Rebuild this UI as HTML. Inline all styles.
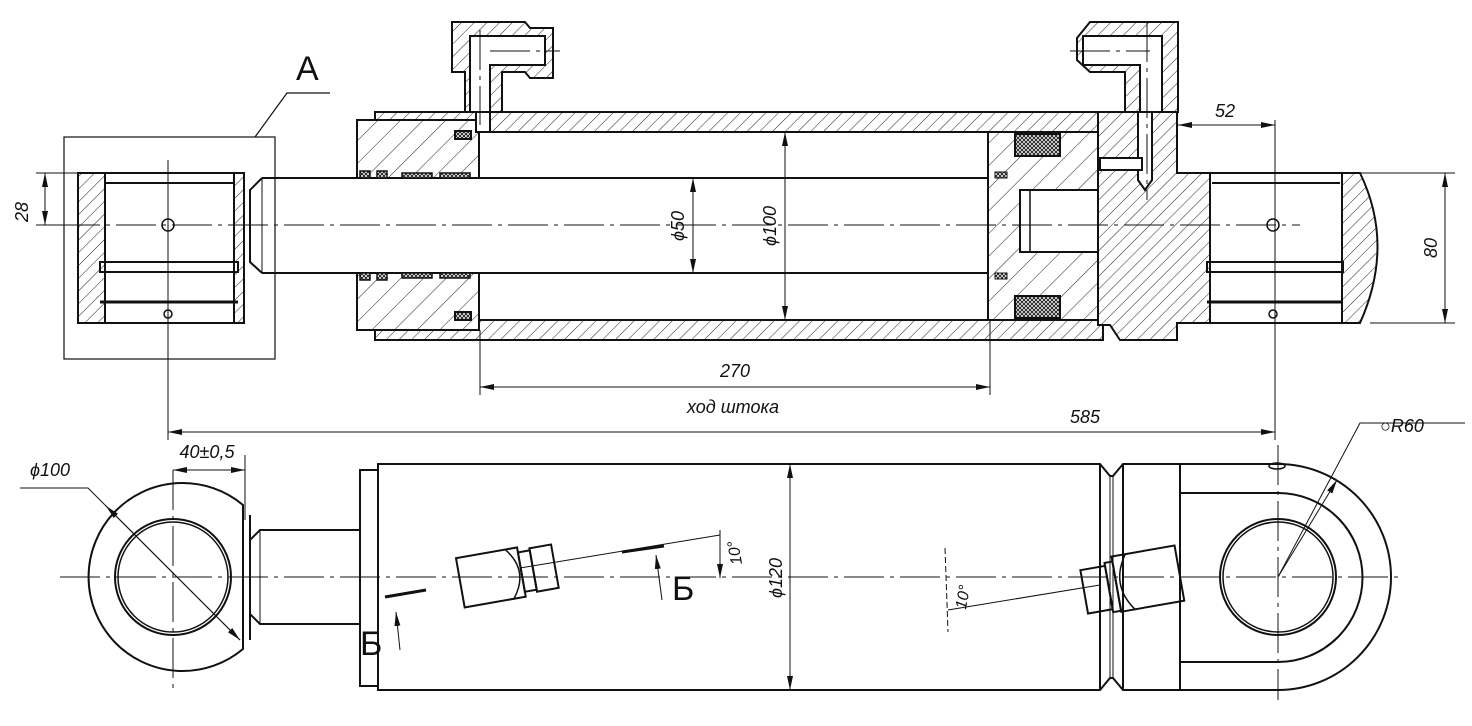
<!DOCTYPE html>
<html><head><meta charset="utf-8"><style>
html,body{margin:0;padding:0;background:#fff}
svg{display:block}
text{font-family:"Liberation Sans",sans-serif;font-style:italic;fill:#111}
</style></head><body>
<svg width="1472" height="726" viewBox="0 0 1472 726" xmlns="http://www.w3.org/2000/svg">
<defs>
<pattern id="h" width="9" height="9" patternUnits="userSpaceOnUse" patternTransform="rotate(45)">
<rect width="9" height="9" fill="#fff"/><line x1="0" y1="0" x2="0" y2="9" stroke="#222" stroke-width="1"/></pattern>
<pattern id="h2" width="16" height="16" patternUnits="userSpaceOnUse" patternTransform="rotate(45)">
<rect width="16" height="16" fill="#fff"/><line x1="0" y1="0" x2="0" y2="16" stroke="#222" stroke-width="1"/></pattern>
<pattern id="x" width="4" height="4" patternUnits="userSpaceOnUse">
<rect width="4" height="4" fill="#fff"/><path d="M0,0L4,4M4,0L0,4" stroke="#222" stroke-width="1"/></pattern>
<marker id="a" markerWidth="14" markerHeight="6" refX="14" refY="3" orient="auto" markerUnits="userSpaceOnUse"><path d="M0,0L14,3L0,6z" fill="#111"/></marker>
<marker id="b" markerWidth="14" markerHeight="6" refX="0" refY="3" orient="auto" markerUnits="userSpaceOnUse"><path d="M14,0L0,3L14,6z" fill="#111"/></marker>
</defs>
<g fill="none" stroke="#111" stroke-width="2">
<!-- ========== TOP VIEW ========== -->
<!-- view A frame -->
<rect x="64" y="137" width="211" height="222" stroke-width="1.2"/>
<polyline points="330,93 287,93 255,137" stroke-width="1.2"/>
<!-- left eye section -->
<rect x="78" y="173" width="27" height="150" fill="url(#h)"/>
<rect x="234" y="173" width="10" height="150" fill="url(#h)"/>
<rect x="78" y="173" width="166" height="150"/>
<line x1="105" y1="183" x2="234" y2="183"/>
<rect x="100" y="262" width="138" height="10"/>
<line x1="100" y1="302" x2="238" y2="302" stroke-width="3"/>
<circle cx="168" cy="225" r="6" stroke-width="1.5"/>
<circle cx="168" cy="314" r="4" stroke-width="1.5"/>
<!-- rod -->
<path d="M262,178 L1020,178 M262,273 L1020,273 M262,178 L250,190 L250,262 L262,273"/>
<line x1="262" y1="178" x2="262" y2="273" stroke-width="1"/>
<!-- tube -->
<rect x="375" y="112" width="728" height="20" fill="url(#h)"/>
<rect x="375" y="320" width="728" height="20" fill="url(#h)"/>
<!-- gland -->
<rect x="357" y="120" width="122" height="58" fill="url(#h2)"/>
<rect x="357" y="273" width="122" height="57" fill="url(#h2)"/>
<rect x="455" y="131" width="16" height="8" fill="url(#x)"/>
<rect x="455" y="312" width="16" height="8" fill="url(#x)"/>
<g fill="url(#x)" stroke-width="1.5">
<rect x="360" y="171" width="10" height="7"/><rect x="377" y="171" width="10" height="7"/><rect x="402" y="173" width="30" height="5"/><rect x="440" y="173" width="30" height="5"/>
<rect x="360" y="273" width="10" height="7"/><rect x="377" y="273" width="10" height="7"/><rect x="402" y="273" width="30" height="5"/><rect x="440" y="273" width="30" height="5"/>
</g>
<!-- piston -->
<rect x="988" y="132" width="110" height="188" fill="url(#h2)"/>
<rect x="1020" y="190" width="78" height="62" fill="#fff"/>
<line x1="1030" y1="190" x2="1030" y2="252" stroke-width="1.5"/>
<rect x="1015" y="134" width="45" height="22" fill="url(#x)"/>
<rect x="1015" y="296" width="45" height="22" fill="url(#x)"/>
<rect x="995" y="172" width="12" height="6" fill="url(#x)" stroke-width="1"/>
<rect x="995" y="273" width="12" height="6" fill="url(#x)" stroke-width="1"/>
<!-- rear head + eye -->
<path d="M1098,112 L1177,112 L1177,173 L1360,173 Q1395,245 1360,323 L1177,323 L1177,340 L1120,340 L1110,325 L1098,325 Z" fill="url(#h)"/>
<rect x="1210" y="173" width="132" height="150" fill="#fff"/>
<line x1="1212" y1="183" x2="1340" y2="183"/>
<rect x="1207" y="262" width="136" height="10"/>
<line x1="1207" y1="302" x2="1343" y2="302" stroke-width="3"/>
<line x1="1207" y1="323" x2="1343" y2="323"/>
<circle cx="1273" cy="225" r="6" stroke-width="1.5"/>
<circle cx="1273" cy="314" r="4" stroke-width="1.5"/>
<path d="M1138,112 L1138,180 L1145,190 L1152,180 L1152,112" fill="#fff"/>
<rect x="1100" y="158" width="42" height="12" fill="#fff"/>
<!-- fittings -->
<path d="M452,22 L525,22 L530,28 L553,28 L553,78 L530,78 L525,72 L502,72 L502,112 L465,112 L465,72 L452,72 Z" fill="url(#h)"/>
<path d="M470,36 L545,36 L545,65 L490,65 L490,112 L470,112 Z" fill="#fff"/>
<rect x="476" y="112" width="14" height="20" fill="#fff"/>
<path d="M1077,38 L1090,22 L1178,22 L1178,112 L1125,112 L1125,72 L1090,72 L1077,60 Z" fill="url(#h)"/>
<path d="M1083,36 L1162,36 L1162,112 L1140,112 L1140,65 L1083,65 Z" fill="#fff"/>
<!-- centerlines -->
<g stroke-width="1" stroke-dasharray="40,6,4,6">
<line x1="60" y1="225" x2="1300" y2="225"/>
<line x1="490" y1="51" x2="560" y2="51"/><line x1="1070" y1="51" x2="1150" y2="51"/>
<line x1="480" y1="30" x2="480" y2="125"/><line x1="1147" y1="22" x2="1147" y2="200"/>
</g>
<!-- dimensions top -->
<g stroke-width="1">
<line x1="168" y1="160" x2="168" y2="440"/>
<line x1="1275" y1="120" x2="1275" y2="440"/>
<line x1="36" y1="173" x2="80" y2="173"/><line x1="36" y1="225" x2="80" y2="225"/>
<line x1="45" y1="173" x2="45" y2="225" marker-start="url(#b)" marker-end="url(#a)"/>
<line x1="1340" y1="173" x2="1455" y2="173"/><line x1="1370" y1="323" x2="1455" y2="323"/>
<line x1="1445" y1="173" x2="1445" y2="323" marker-start="url(#b)" marker-end="url(#a)"/>
<line x1="1178" y1="125" x2="1275" y2="125" marker-start="url(#b)" marker-end="url(#a)"/>
<line x1="693" y1="178" x2="693" y2="273" marker-start="url(#b)" marker-end="url(#a)"/>
<line x1="785" y1="132" x2="785" y2="320" marker-start="url(#b)" marker-end="url(#a)"/>
<line x1="480" y1="330" x2="480" y2="395"/><line x1="990" y1="320" x2="990" y2="395"/>
<line x1="480" y1="387" x2="990" y2="387" marker-start="url(#b)" marker-end="url(#a)"/>
<line x1="168" y1="432" x2="1275" y2="432" marker-start="url(#b)" marker-end="url(#a)"/>
</g>
<!-- ========== BOTTOM VIEW ========== -->
<path d="M243,505 A94,94 0 1 0 243,649 Z"/>
<line x1="250" y1="515" x2="250" y2="640"/>
<circle cx="173" cy="577" r="58"/><circle cx="173" cy="577" r="55" stroke-width="1.5"/>
<path d="M250,540 L260,530 L360,530 M250,614 L260,624 L360,624"/>
<line x1="260" y1="530" x2="260" y2="624" stroke-width="1"/>
<path d="M378,470 L360,470 L360,686 L378,686"/>
<path d="M378,464 L1100,464 L1110,476 L1113,476 L1123,464 L1180,464 L1278,464 A113,113 0 0 1 1278,690 L1180,690 L1123,690 L1113,678 L1110,678 L1100,690 L378,690 Z"/>
<line x1="378" y1="464" x2="378" y2="690"/>
<line x1="1100" y1="464" x2="1100" y2="690"/><line x1="1123" y1="464" x2="1123" y2="690"/>
<line x1="1110" y1="476" x2="1110" y2="678" stroke-width="1"/><line x1="1113" y1="476" x2="1113" y2="678" stroke-width="1"/>
<line x1="1180" y1="464" x2="1180" y2="690"/>
<path d="M1180,493 L1278,493 A84,84 0 0 1 1278,662 L1180,662"/>
<circle cx="1278" cy="577" r="58"/><circle cx="1278" cy="577" r="55" stroke-width="1.5"/>
<ellipse cx="1277" cy="466" rx="8" ry="3" stroke-width="1.5"/>
<!-- ports -->
<g transform="rotate(-10 505 577)">
<rect x="460" y="550" width="62" height="50"/><rect x="522" y="555" width="12" height="40"/><rect x="534" y="553" width="22" height="44"/>
<path d="M510,550 Q530,575 510,600" stroke-width="1.5"/>
</g>
<g transform="rotate(-10 1140 580)">
<rect x="1083" y="560" width="25" height="44"/><rect x="1108" y="557" width="8" height="50"/><rect x="1116" y="552" width="64" height="56"/>
<path d="M1130,552 Q1110,580 1130,608" stroke-width="1.5"/>
</g>
<!-- centerlines bottom -->
<g stroke-width="1" stroke-dasharray="40,6,4,6">
<line x1="60" y1="577" x2="1400" y2="577"/>
<line x1="173" y1="470" x2="173" y2="690"/>
<line x1="1278" y1="445" x2="1278" y2="700"/>
</g>
<!-- dims bottom -->
<g stroke-width="1">
<line x1="245" y1="455" x2="245" y2="520"/>
<line x1="173" y1="470" x2="245" y2="470" marker-start="url(#b)" marker-end="url(#a)"/>
<polyline points="20,488 88,488 240,640" marker-end="url(#a)"/>
<line x1="240" y1="640" x2="106" y2="506" marker-end="url(#a)"/>
<line x1="790" y1="464" x2="790" y2="690" marker-start="url(#b)" marker-end="url(#a)"/>
<polyline points="1465,423 1360,423 1278,577"/>
<line x1="1278" y1="577" x2="1337" y2="480" marker-end="url(#a)"/>
<line x1="720" y1="538" x2="720" y2="578" marker-end="url(#a)"/>
<line x1="720" y1="530" x2="720" y2="538"/>
<line x1="520" y1="568" x2="720" y2="535"/>
<line x1="945" y1="548" x2="948" y2="632" stroke-dasharray="6,3"/>
<line x1="948" y1="610" x2="1100" y2="585"/>
<line x1="400" y1="650" x2="396" y2="612" marker-end="url(#a)"/>
<line x1="662" y1="600" x2="656" y2="555" marker-end="url(#a)"/>
</g>
<line x1="385" y1="597" x2="426" y2="590" stroke-width="3"/>
<line x1="622" y1="552" x2="664" y2="546" stroke-width="3"/>
</g>
<!-- labels -->
<text x="296" y="80" font-size="34" style="font-style:normal">A</text>
<text x="28" y="212" font-size="18" transform="rotate(-90 28 212)" text-anchor="middle">28</text>
<text x="1437" y="248" font-size="18" transform="rotate(-90 1437 248)" text-anchor="middle">80</text>
<text x="1225" y="117" font-size="18" text-anchor="middle">52</text>
<text x="684" y="226" font-size="18" transform="rotate(-90 684 226)" text-anchor="middle">ϕ50</text>
<text x="776" y="226" font-size="18" transform="rotate(-90 776 226)" text-anchor="middle">ϕ100</text>
<text x="735" y="377" font-size="18" text-anchor="middle">270</text>
<text x="733" y="413" font-size="18" text-anchor="middle">ход штока</text>
<text x="1085" y="423" font-size="18" text-anchor="middle">585</text>
<text x="207" y="458" font-size="18" text-anchor="middle">40±0,5</text>
<text x="30" y="476" font-size="18">ϕ100</text>
<text x="1380" y="432" font-size="18">○R60</text>
<text x="782" y="578" font-size="18" transform="rotate(-90 782 578)" text-anchor="middle">ϕ120</text>
<text x="740" y="552" font-size="16" transform="rotate(-100 740 552)" text-anchor="middle">10°</text>
<text x="968" y="598" font-size="16" transform="rotate(-80 968 598)" text-anchor="middle">10°</text>
<text x="360" y="655" font-size="34" style="font-style:normal">Б</text>
<text x="672" y="600" font-size="34" style="font-style:normal">Б</text>
</svg>
</body></html>
